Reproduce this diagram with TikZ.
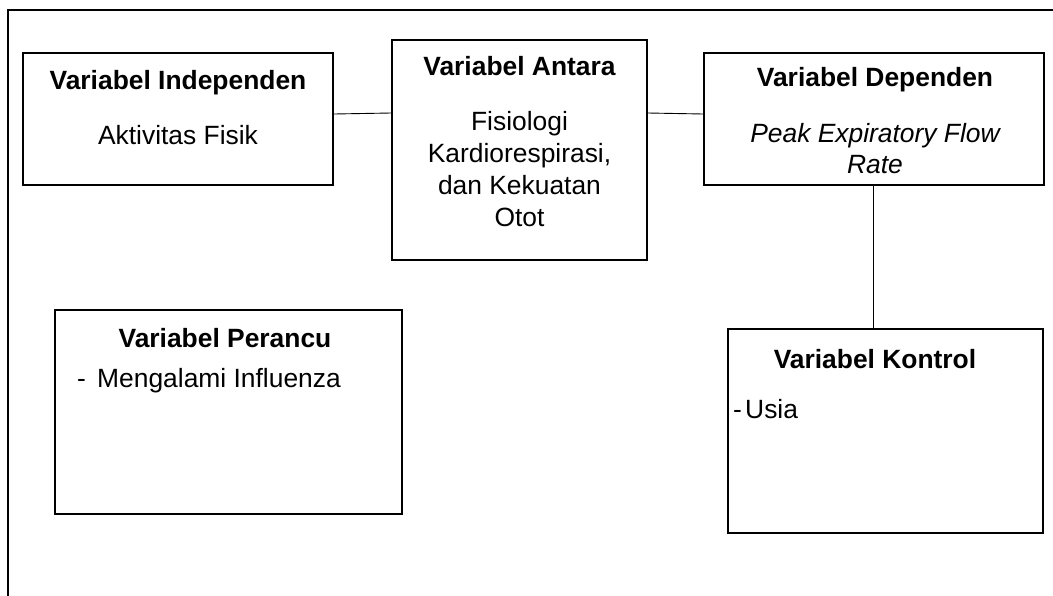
\documentclass[tikz,border=0pt]{standalone}
\usepackage{fontspec}
\setmainfont{Liberation Sans}
\begin{document}
\begin{tikzpicture}[x=1pt,y=-1pt,
  box/.style={draw=black,line width=2pt,rectangle,inner sep=0pt},
  conn/.style={draw=black,line width=0.9pt},
  txt/.style={anchor=base,inner sep=0pt,font=\fontsize{26.4}{31.5}\selectfont},
  hd/.style={txt,font=\fontsize{26.4}{31.5}\selectfont\bfseries},
  tl/.style={anchor=base west,inner sep=0pt,font=\fontsize{26.4}{31.5}\selectfont}]
\useasboundingbox (0,0) rectangle (1053,595);
% outer frame
\draw[line width=2pt] (8,600) -- (8,10) -- (1060,10);
% boxes
\node[box,minimum width=310pt,minimum height=132pt] (ind) at (178,119) {};
\node[box,minimum width=255pt,minimum height=220pt] (ant) at (519.5,150) {};
\node[box,minimum width=340pt,minimum height=132pt] (dep) at (874,119) {};
\node[box,minimum width=347pt,minimum height=204pt] (per) at (228.5,412) {};
\node[box,minimum width=315pt,minimum height=204pt] (kon) at (885.5,431) {};
% texts
\node[hd] (indh) at (178,89) {Variabel Independen};
\node[txt] (indt) at (178,144) {Aktivitas Fisik};
\node[hd] (anth) at (519.5,75) {Variabel Antara};
\node[txt] (ant1) at (519.5,130) {Fisiologi};
\node[txt] (ant2) at (519.5,162) {Kardiorespirasi,};
\node[txt] (ant3) at (519.5,194) {dan Kekuatan};
\node[txt] (ant4) at (519.5,226) {Otot};
\node[hd] (deph) at (875,86) {Variabel Dependen};
\node[txt,font=\fontsize{26.4}{31.5}\selectfont\itshape] (dep1) at (875,142) {Peak Expiratory Flow};
\node[txt,font=\fontsize{26.4}{31.5}\selectfont\itshape] (dep2) at (875,173) {Rate};
\node[hd] (perh) at (225,347) {Variabel Perancu};
\node[tl] (perd) at (77,387) {-};
\node[tl] (pert) at (97,387) {Mengalami Influenza};
\node[hd] (konh) at (875,368) {Variabel Kontrol};
\node[tl] (kond) at (733,418) {-};
\node[tl] (kont) at (745,418) {Usia};
% connectors
\draw[conn] (ind.east |- 0,114) -- (ant.west |- 0,113);
\draw[conn] (ant.east |- 0,113) -- (dep.west |- 0,114);
\draw[conn] (dep.south -| 873,0) -- (kon.north -| 873,0);
\end{tikzpicture}
\end{document}
